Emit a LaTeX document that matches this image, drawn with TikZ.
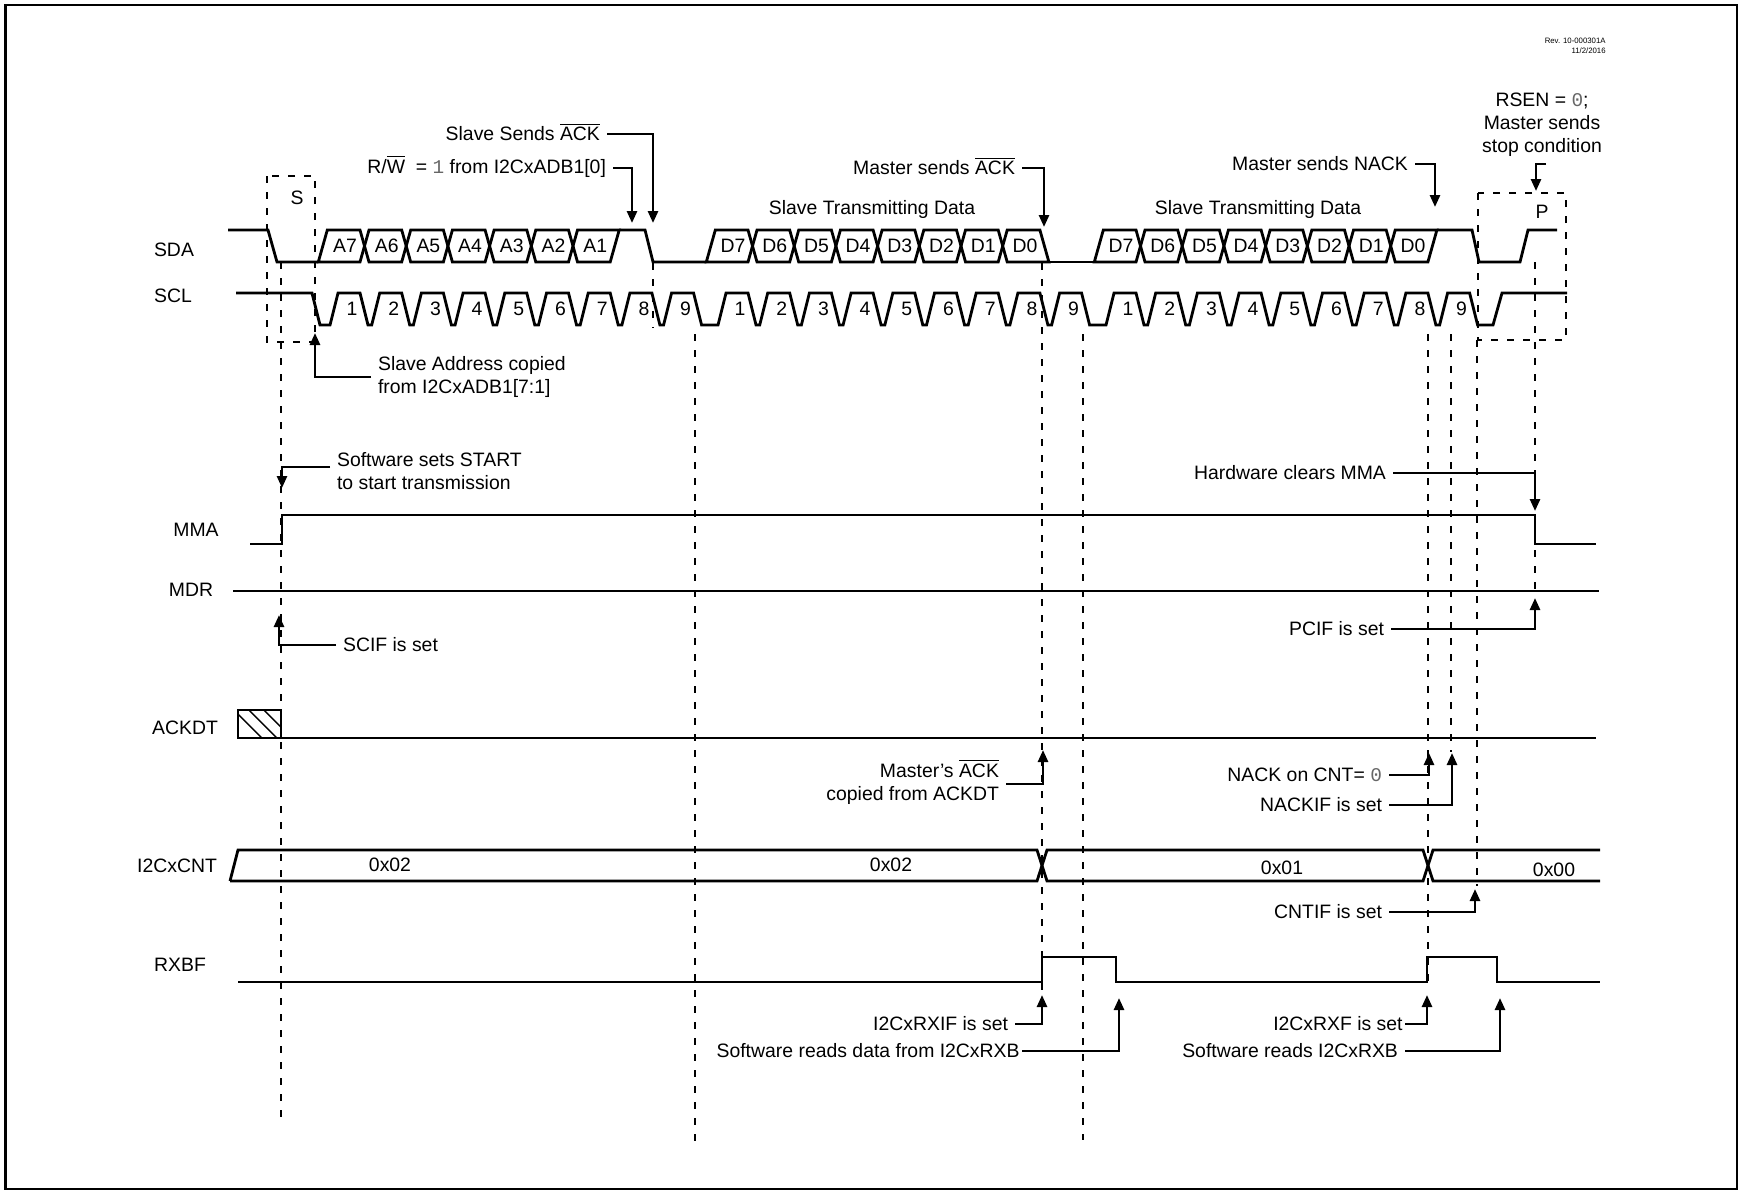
\documentclass[tikz,border=0pt]{standalone}
\usepackage{fontspec}
\setmainfont{Liberation Sans}
\setmonofont{Liberation Mono}
\usetikzlibrary{arrows.meta, positioning, calc}

\newcommand{\ovl}[1]{\smash{$\overline{\hbox{#1}}$}}
\newcommand{\mono}[1]{{\color{black!60}\texttt{#1}}}

\tikzset{
  sig/.style={line width=1.4pt},
  guide/.style={line width=0.8pt, dash pattern=on 3.5pt off 4.5pt},
  note/.style={line width=1.3pt, -{Triangle[length=6pt,width=5pt]}},
}

\begin{document}
\begin{tikzpicture}[x=0.5pt, y=-0.5pt, font=\fontsize{9.7}{11.6}\selectfont]
        \useasboundingbox (0,0) rectangle (1738,1191);
        \draw[line width=1.1pt] (5.5,5) rectangle (1737,1189);

        % Signal names
        \node (nSDA) at (174,250) {SDA};
        \node (nSCL) at (173,296) {SCL};
        \node (nMMA) at (196,530) {MMA};
        \node (nMDR) at (191,590) {MDR};
        \node (nACKDT) at (185,728) {ACKDT};
        \node (nCNT) at (177,866) {I2CxCNT};
        \node (nRXBF) at (180,965) {RXBF};
        \node[anchor=east, align=right, inner sep=0pt, font=\fontsize{3.9}{5}\selectfont] (rev) at (1606,46) {Rev. 10-000301A\\11/2/2016};

        % SCL
        \draw[sig] (236,293) -- (312,293) -- (320,325)
          \foreach \bx in {349,737,1125} { \foreach \i in {0,...,8} {
            -- ({\bx+\i*41.7-19},325) -- ({\bx+\i*41.7-11},293) -- ({\bx+\i*41.7+11},293) -- ({\bx+\i*41.7+19},325) } }
          -- (1493,325) -- (1502,293) -- (1567,293);
        \foreach \bx in {349,737,1125}
          \foreach \i in {1,...,9}
            \node (c\bx-\i) at ({\bx+(\i-1)*41.7+3},309) {\i};

        % SDA
        \draw[sig] (228,230) -- (268,230) -- (277,262) -- (318.3,262);
        \draw[sig] (619.2,230) -- (645,230) -- (653,262) -- (706.3,262);
        \draw[sig] (1048.9,262) -- (1094.3,262);
        \draw[sig] (1436.9,230) -- (1472,230) -- (1479,262) -- (1520,262) -- (1528,230) -- (1557,230);
        \foreach \bx in {349,737,1125}
          \draw[sig] ({\bx-30.7},262) -- ({\bx-21.7},230) -- (\bx+11,230) -- (\bx+15.5,246) -- (\bx+11,262) -- cycle;
        \foreach \bx/\n in {349/6,737/7,1125/7}
          \foreach \i in {2,...,\n}
            \draw[sig] ({\bx+(\i-2)*41.7+15.5},246) -- ({\bx+(\i-2)*41.7+20},230) -- ({\bx+(\i-1)*41.7+11},230)
              -- ({\bx+(\i-1)*41.7+15.5},246) -- ({\bx+(\i-1)*41.7+11},262) -- ({\bx+(\i-2)*41.7+20},262) -- cycle;
        \draw[sig] (573,246) -- (577.5,230) -- (619.2,230) -- (610.2,262) -- (577.5,262) -- cycle;
        \draw[sig] (1002.7,246) -- (1007.2,230) -- (1039.9,230) -- (1048.9,262) -- (1007.2,262) -- cycle;
        \draw[sig] (1390.7,246) -- (1395.2,230) -- (1436.9,230) -- (1427.9,262) -- (1395.2,262) -- cycle;
        \foreach \t [count=\i] in {A7,A6,A5,A4,A3,A2,A1}
          \node (a\i) at ({349+(\i-1)*41.7-4},246) {\t};
        \foreach \bx/\m in {737/d,1125/e}
          \foreach \t [count=\i] in {D7,D6,D5,D4,D3,D2,D1,D0}
            \node (\m\i) at ({\bx+(\i-1)*41.7-4},246) {\t};
        \node (tx1) at (872,209) {Slave Transmitting Data};
        \node (tx2) at (1258,209) {Slave Transmitting Data};

        % Start / stop boxes
        \draw[guide] (267,176) rectangle (315,342);
        \draw[guide] (1478,193) rectangle (1566,340);
        \node (start) at (297,198) {S};
        \node (stop) at (1542,212) {P};

        % Guide lines
        \foreach \x/\ya/\yb in {281/262/1124, 653/263/328, 695/334/1143, 1042/263/990, 1083/334/1140,
                                1428/334/990, 1451/334/752, 1477/340/886, 1535/262/592}
          \draw[guide] (\x,\ya) -- (\x,\yb);

        % MMA, MDR, ACKDT
        \draw[sig] (250,544) -- (282,544) -- (282,515) -- (1535,515) -- (1535,544) -- (1596,544);
        \draw[sig] (233,591) -- (1599,591);
        \begin{scope}
          \clip (238,710) rectangle (281,738);
          \foreach \i in {0,...,2}
            \draw[line width=0.7pt] ({234+\i*15},710) -- ({262+\i*15},738);
        \end{scope}
        \draw[line width=0.9pt] (238,710) rectangle (281,738);
        \draw[sig] (238,738) -- (1596,738);

        % I2CxCNT
        \draw[sig] (230,881) -- (238,850) -- (1037,850) -- (1047,881) -- (1423,881) -- (1433,850) -- (1600,850);
        \draw[sig] (230,881) -- (1037,881) -- (1047,850) -- (1423,850) -- (1433,881) -- (1600,881);
        \node (v1) at (390,865) {0x02};
        \node (v2) at (891,865) {0x02};
        \node (v3) at (1282,868) {0x01};
        \node (v4) at (1554,870) {0x00};

        % RXBF
        \draw[sig] (238,982) -- (1042,982) -- (1042,957) -- (1116,957) -- (1116,982) -- (1427,982) -- (1427,957) -- (1497,957) -- (1497,982) -- (1600,982);

        % Annotations
        \node[anchor=east] (tSlvAck) at (607,134) {Slave Sends \ovl{ACK}};
        \node[anchor=east] (tRW) at (613,168) {R/\ovl{W} \ = \mono{1} from I2CxADB1[0]};
        \node[anchor=east] (tMstAck) at (1022,168) {Master sends \ovl{ACK}};
        \node[anchor=east] (tMstNack) at (1415,164) {Master sends NACK};
        \node[align=center] (tRsen) at (1542,125) {RSEN = \mono{0};\\Master sends\\stop condition};
        \node[anchor=west, align=left] (tSlvAdr) at (371,377) {Slave Address copied\\from I2CxADB1[7:1]};
        \node[anchor=west, align=left] (tStart) at (330,471) {Software sets START\\to start transmission};
        \node[anchor=west] (tScif) at (336,645) {SCIF is set};
        \node[anchor=east] (tHwMma) at (1393,473) {Hardware clears MMA};
        \node[anchor=east] (tPcif) at (1391,629) {PCIF is set};
        \node[anchor=east, align=right] (tMAck) at (1006,784) {Master’s \ovl{ACK}\\copied from ACKDT};
        \node[anchor=east] (tNackCnt) at (1389,775) {NACK on CNT= \mono{0}};
        \node[anchor=east] (tNackif) at (1389,805) {NACKIF is set};
        \node[anchor=east] (tCntif) at (1389,912) {CNTIF is set};
        \node[anchor=east] (tRxif) at (1015,1024) {I2CxRXIF is set};
        \node[anchor=east, inner xsep=1pt] (tSwRd) at (1022,1051) {Software reads data from I2CxRXB};
        \node[anchor=east, inner xsep=1pt] (tRxf) at (1405,1024) {I2CxRXF is set};
        \node[anchor=east] (tSwRd2) at (1405,1051) {Software reads I2CxRXB};

        \coordinate (pSlvAck) at (653,223);
        \coordinate (pRW) at (632,223);
        \coordinate (pMstAck) at (1044,227);
        \coordinate (pMstNack) at (1435,207);
        \coordinate (pRsen) at (1536,191);
        \coordinate (pSlvAdr) at (315,333);
        \coordinate (pStart) at (282,488);
        \coordinate (pScif) at (279,615);
        \coordinate (pHwMma) at (1535,511);
        \coordinate (pPcif) at (1535,598);
        \coordinate (pMAck) at (1043,750);
        \coordinate (pNackCnt) at (1429,753);
        \coordinate (pNackif) at (1452,753);
        \coordinate (pCntif) at (1475,889);
        \coordinate (pRxif) at (1042,995);
        \coordinate (pSwRd) at (1119,998);
        \coordinate (pRxf) at (1427,995);
        \coordinate (pSwRd2) at (1500,998);

        \draw[note] (tSlvAck) -| (pSlvAck);
        \draw[note] (tRW) -| (pRW);
        \draw[note] (tMstAck) -| (pMstAck);
        \draw[note] (tMstNack) -| (pMstNack);
        \draw[note] ($(tRsen.south)+(4,0)$) -| (pRsen);
        \draw[note] (tSlvAdr) -| (pSlvAdr);
        \draw[note] ($(tStart.west)+(0,-4)$) -| (pStart);
        \draw[note] (tScif) -| (pScif);
        \draw[note] (tHwMma) -| (pHwMma);
        \draw[note] (tPcif) -| (pPcif);
        \draw[note] (tMAck) -| (pMAck);
        \draw[note] (tNackCnt) -| (pNackCnt);
        \draw[note] (tNackif) -| (pNackif);
        \draw[note] (tCntif) -| (pCntif);
        \draw[note] (tRxif) -| (pRxif);
        \draw[note] (tSwRd) -| (pSwRd);
        \draw[note] (tRxf) -| (pRxf);
        \draw[note] (tSwRd2) -| (pSwRd2);
    \end{tikzpicture}
\end{document}
